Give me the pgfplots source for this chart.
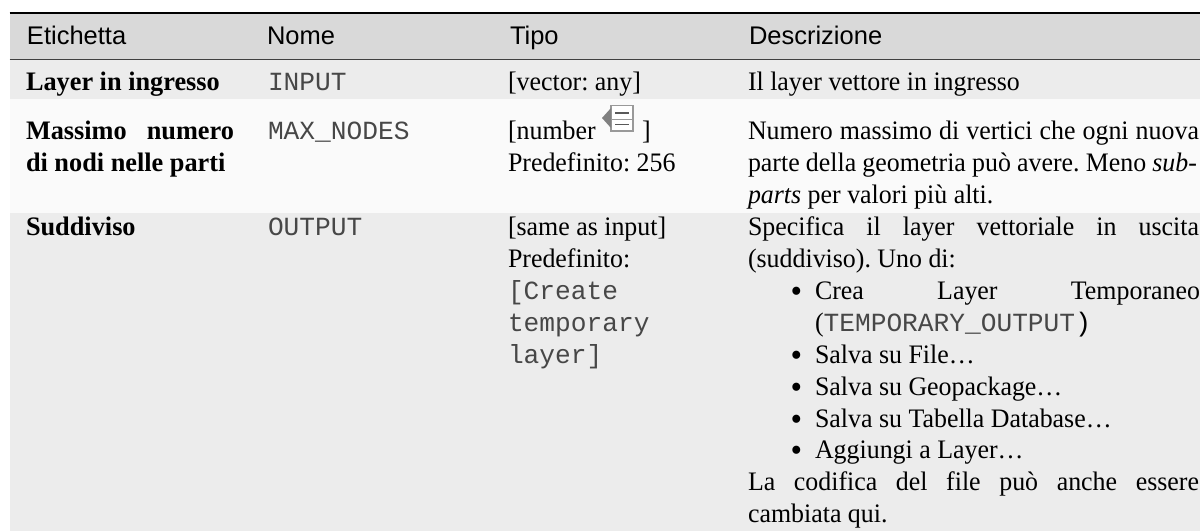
\documentclass[border=0pt]{standalone}
\usepackage{pgfplots}
\pgfplotsset{compat=1.18}
\usepackage{fontspec}
\setmainfont{Liberation Serif}[FakeStretch=0.97,BoldFeatures={FakeStretch=0.985},ItalicFeatures={FakeStretch=0.97}]
\newfontfamily\hd{Liberation Sans}
\newfontfamily\mono{Liberation Mono}
\definecolor{hdr}{HTML}{D9D9D9}
\definecolor{rowa}{HTML}{ECECEC}
\definecolor{rowb}{HTML}{FAFAFA}
\newcommand{\T}{\fontsize{26.7}{32}\selectfont\frenchspacing}
\newcommand{\M}{\mono\fontsize{26.2}{32}\selectfont\color{black!72}}
\newcommand{\HH}{\hd\fontsize{25.5}{32}\selectfont}
\tikzset{tx/.style={anchor=base west,inner sep=0pt,outer sep=0pt}}
\newcommand{\tnode}[3]{\node[tx] at (axis cs:#1,#2) {\T #3};}
\newcommand{\mnode}[3]{\node[tx] at (axis cs:#1,#2) {\M #3};}
\newcommand{\jnode}[4]{\node[tx] at (axis cs:#1,#2) {\T\makebox[#3pt][s]{#4}};}
\newcommand{\bnode}[1]{\node[tx] at (axis cs:790.5,#1+3.5) {\fontsize{34}{34}\selectfont •};}
\begin{document}
\begin{tikzpicture}[x=1pt,y=1pt]
\path[use as bounding box] (0,0) rectangle (1200,531);
\begin{axis}[at={(0,0)},anchor=south west,scale only axis,width=1200pt,height=531pt,
  xmin=0,xmax=1200,ymin=0,ymax=531,y dir=reverse,hide axis,clip=false]
\addplot[fill=hdr,draw=none] coordinates {(9.5,13)(1200,13)(1200,59)(9.5,59)} -- cycle;
\addplot[fill=rowa,draw=none] coordinates {(9.5,59)(1200,59)(1200,99)(9.5,99)} -- cycle;
\addplot[fill=rowb,draw=none] coordinates {(9.5,99)(1200,99)(1200,213)(9.5,213)} -- cycle;
\addplot[fill=rowa,draw=none] coordinates {(9.5,213)(1200,213)(1200,531)(9.5,531)} -- cycle;
\addplot[black,line width=2.2pt] coordinates {(9.5,13)(1200,13)};
\addplot[black!75,line width=1pt] coordinates {(9.5,59.3)(1200,59.3)};
% header
\node[tx] at (axis cs:27,44) {\HH Etichetta};
\node[tx] at (axis cs:267,44) {\HH Nome};
\node[tx] at (axis cs:510,44) {\HH Tipo};
\node[tx] at (axis cs:749,44) {\HH Descrizione};
% row 1
\tnode{26}{90.5}{\textbf{Layer in ingresso}}
\mnode{268}{90.5}{INPUT}
\tnode{508}{90.5}{[vector: any]}
\tnode{748}{90.5}{Il layer vettore in ingresso}
% row 2
\jnode{26}{139}{208}{\textbf{Massimo numero}}
\tnode{26}{171}{\textbf{di nodi nelle parti}}
\mnode{268}{139}{MAX\_NODES}
\tnode{508}{139}{[number}
\tnode{642}{139}{]}
\tnode{508}{171}{Predefinito: 256}
\jnode{748}{139}{451}{Numero massimo di vertici che ogni nuova}
\jnode{748}{171}{449}{parte della geometria può avere. Meno \textit{sub-}}
\tnode{748}{203}{\textit{parts} per valori più alti.}
% icon
\addplot[fill=white,draw=black!40,line width=1.2pt] coordinates {(611,105.5)(633,105.5)(633,131)(611,131)} -- cycle;
\addplot[fill=black!50,draw=none] coordinates {(602,118)(611,108)(611,128)} -- cycle;
\addplot[black!40,line width=1pt] coordinates {(611,119)(633,119)};
\addplot[black!65,line width=2.4pt] coordinates {(615,113)(629,113)};
\addplot[black!65,line width=1.2pt] coordinates {(615,124.5)(629,124.5)};
% row 3
\tnode{26}{235}{\textbf{Suddiviso}}
\mnode{268}{235}{OUTPUT}
\tnode{508}{235}{[same as input]}
\tnode{508}{267}{Predefinito:}
\mnode{508}{299}{[Create}
\mnode{508}{331}{temporary}
\mnode{508}{363}{layer]}
\jnode{748}{235}{451}{Specifica il layer vettoriale in uscita}
\tnode{748}{267}{(suddiviso). Uno di:}
\bnode{299}
\jnode{815}{299}{385}{Crea Layer Temporaneo}
\node[tx] at (axis cs:815,331) {\T(\M TEMPORARY\_OUTPUT\T\color{black})};
\bnode{363}\tnode{815}{363}{Salva su File…}
\bnode{395}\tnode{815}{395}{Salva su Geopackage…}
\bnode{427}\tnode{815}{427}{Salva su Tabella Database…}
\bnode{458}\tnode{815}{458}{Aggiungi a Layer…}
\jnode{748}{490}{451}{La codifica del file può anche essere}
\tnode{748}{522}{cambiata qui.}
\end{axis}
\end{tikzpicture}
\end{document}
